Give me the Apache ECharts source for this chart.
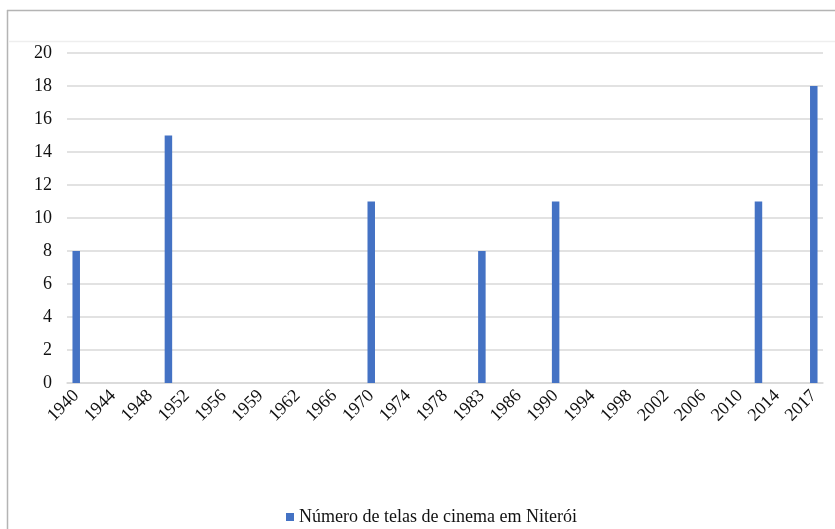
<!DOCTYPE html>
<html>
<head>
<meta charset="utf-8">
<script src="https://cdn.jsdelivr.net/npm/echarts@6/dist/echarts.min.js"></script>
<style>
  html, body { margin: 0; padding: 0; background: #fff; }
  #chart { width: 835px; height: 529px; }
</style>
</head>
<body>
<div id="chart"></div>
<script>
// Years on the category axis (every other one is labelled)
const years = [
  '1940', '1942', '1944', '1946', '1948', '1950', '1952', '1954', '1956', '1958',
  '1959', '1960', '1962', '1964', '1966', '1968', '1970', '1972', '1974', '1976',
  '1978', '1980', '1983', '1985', '1986', '1988', '1990', '1992', '1994', '1996',
  '1998', '2000', '2002', '2004', '2006', '2008', '2010', '2012', '2014', '2016',
  '2017'
];

// Number of cinema screens per year
const screens = [
  8, 0, 0, 0, 0, 15, 0, 0, 0, 0,
  0, 0, 0, 0, 0, 0, 11, 0, 0, 0,
  0, 0, 8, 0, 0, 0, 11, 0, 0, 0,
  0, 0, 0, 0, 0, 0, 0, 11, 0, 0,
  18
];

const seriesName = 'Número de telas de cinema em Niterói';
const yTicks = { min: 0, max: 20, interval: 2 };

const serif = '"Liberation Serif", "Times New Roman", serif';

const chart = echarts.init(document.getElementById('chart'), null, { renderer: 'canvas' });

chart.setOption({
  backgroundColor: '#ffffff',
  animation: false,
  graphic: [
    { type: 'line', shape: { x1: 7.5, y1: 10, x2: 7.5, y2: 529 },
      style: { stroke: '#b4b4b4', lineWidth: 1.5 } },
    { type: 'line', shape: { x1: 7, y1: 10.5, x2: 835, y2: 10.5 },
      style: { stroke: '#b4b4b4', lineWidth: 1.5 } },
    { type: 'line', shape: { x1: 8, y1: 41.5, x2: 835, y2: 41.5 },
      style: { stroke: '#eeeeee', lineWidth: 1.5 } }
  ],
  grid: { left: 67, right: 12, top: 53, bottom: 146, containLabel: false },
  legend: {
    left: 281,
    top: 503,
    icon: 'rect',
    itemWidth: 8,
    itemHeight: 8,
    itemGap: 4,
    textStyle: { fontFamily: serif, fontSize: 18, color: '#111' },
    data: [seriesName]
  },
  xAxis: {
    type: 'category',
    data: years,
    boundaryGap: true,
    axisLine: { show: true, lineStyle: { color: '#d9d9d9', width: 1.5 } },
    axisTick: { show: false },
    axisLabel: {
      interval: 1,
      rotate: 45,
      margin: 10,
      fontFamily: serif,
      fontSize: 18,
      color: '#111'
    }
  },
  yAxis: {
    type: 'value',
    min: yTicks.min,
    max: yTicks.max,
    interval: yTicks.interval,
    axisLine: { show: false },
    axisTick: { show: false },
    splitLine: { lineStyle: { color: '#d9d9d9', width: 1.5 } },
    axisLabel: {
      margin: 15,
      fontFamily: serif,
      fontSize: 18,
      color: '#111'
    }
  },
  series: [{
    name: seriesName,
    type: 'bar',
    data: screens,
    barWidth: 7.5,
    itemStyle: { color: '#4472c4' }
  }]
});
</script>
</body>
</html>
